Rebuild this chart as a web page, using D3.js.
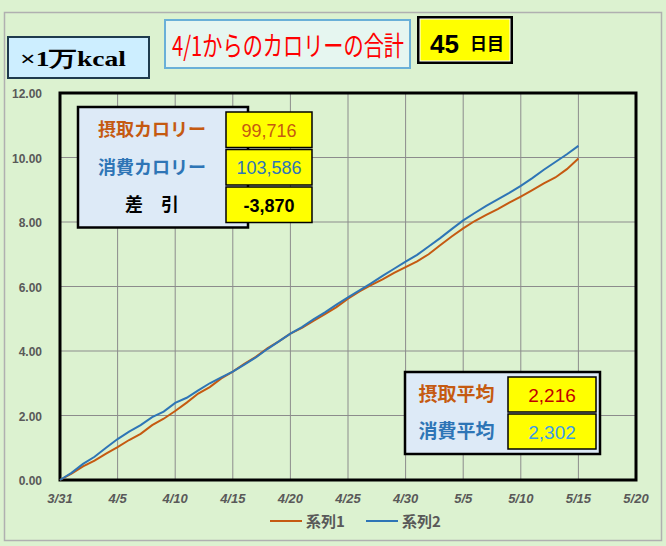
<!DOCTYPE html>
<html><head><meta charset="utf-8">
<script src="https://cdn.jsdelivr.net/npm/d3@7"></script>
<style>body{margin:0;background:#dcf2d0}</style></head>
<body><div id="chart"></div>
<script>
// --- data (×1万kcal, cumulative from 3/31) ---
const days = d3.range(0, 46); // day offset from 3/31
const intake = [0,0.2,0.42,0.6,0.82,1.02,1.24,1.43,1.7,1.9,2.14,2.4,2.68,2.88,3.15,3.36,3.6,3.82,4.08,4.3,4.54,4.72,4.93,5.14,5.36,5.62,5.85,6.04,6.22,6.42,6.6,6.78,7.0,7.28,7.55,7.8,8.03,8.22,8.4,8.6,8.79,8.99,9.2,9.38,9.64,9.97];
const burn = [0,0.22,0.5,0.72,1.0,1.27,1.5,1.7,1.95,2.12,2.39,2.55,2.78,3.0,3.18,3.36,3.58,3.8,4.06,4.3,4.54,4.74,4.98,5.2,5.44,5.66,5.88,6.1,6.33,6.55,6.77,6.98,7.24,7.5,7.78,8.05,8.28,8.5,8.7,8.9,9.12,9.36,9.62,9.86,10.1,10.36];
const xTickLabels = ["3/31","4/5","4/10","4/15","4/20","4/25","4/30","5/5","5/10","5/15","5/20"];
const yTicks = [0,2,4,6,8,10,12];
const totals = [["摂取カロリー","99,716","#c55a11","#c55a11"],["消費カロリー","103,586","#2e75b6","#2e75b6"],["差　引","-3,870","#000","#000"]];
const avgs = [["摂取平均","2,216","#c55a11","#c00000"],["消費平均","2,302","#2e75b6","#3d9be9"]];
const seriesNames = ["系列1","系列2"];
const colors = ["#c55a11","#2e75b6"];

const W = 666, H = 546;
const svg = d3.select("#chart").append("svg").attr("width", W).attr("height", H)
  .style("font-family", "'Noto Sans CJK JP', sans-serif");
svg.append("rect").attr("width", W).attr("height", H).attr("fill", "#dcf2d0");
svg.append("rect").attr("x", 4.5).attr("y", 12.5).attr("width", 657).attr("height", 528)
  .attr("fill", "none").attr("stroke", "#b0b0b0").attr("stroke-width", 1.5);

const x = d3.scaleLinear().domain([0, 50]).range([60, 636]);
const y = d3.scaleLinear().domain([0, 12]).range([480, 93]);

// grid
const g = svg.append("g");
g.selectAll(".vg").data(d3.range(5, 50, 5)).join("line")
  .attr("x1", d => x(d)).attr("x2", d => x(d)).attr("y1", y(12)).attr("y2", y(0))
  .attr("stroke", "#8c8c8c").attr("stroke-width", 1);
g.selectAll(".hg").data(yTicks.slice(1, -1)).join("line")
  .attr("x1", x(0)).attr("x2", x(50)).attr("y1", d => y(d)).attr("y2", d => y(d))
  .attr("stroke", "#8c8c8c").attr("stroke-width", 1);
g.append("rect").attr("x", x(0)).attr("y", y(12)).attr("width", x(50) - x(0)).attr("height", y(0) - y(12))
  .attr("fill", "none").attr("stroke", "#000").attr("stroke-width", 3);

// axes labels
svg.selectAll(".yl").data(yTicks).join("text")
  .attr("x", 42).attr("y", d => y(d) + 5).attr("text-anchor", "end")
  .attr("font-size", 12).attr("font-weight", "bold").attr("fill", "#595959")
  .attr("font-family", "'Liberation Sans Narrow', 'Liberation Sans', sans-serif")
  .text(d => d.toFixed(2));
svg.selectAll(".xl").data(xTickLabels).join("text")
  .attr("x", (d, i) => x(i * 5)).attr("y", 503).attr("text-anchor", "middle")
  .attr("font-size", 13).attr("font-weight", "bold").attr("font-style", "italic").attr("fill", "#595959")
  .attr("font-family", "'Liberation Sans Narrow', 'Liberation Sans', sans-serif")
  .text(d => d);

// lines
const line = d3.line().x((d, i) => x(days[i])).y(d => y(d));
[intake, burn].forEach((s, k) => {
  svg.append("path").datum(s).attr("d", line).attr("fill", "none")
    .attr("stroke", colors[k]).attr("stroke-width", 2);
});

// legend
seriesNames.forEach((n, k) => {
  const lx = 270 + k * 96;
  svg.append("line").attr("x1", lx).attr("x2", lx + 32).attr("y1", 521).attr("y2", 521)
    .attr("stroke", colors[k]).attr("stroke-width", 2);
  svg.append("text").attr("x", lx + 36).attr("y", 527).attr("font-size", 15).attr("font-weight", "bold")
    .attr("fill", "#595959").text(n);
});

// unit box
svg.append("rect").attr("x", 8).attr("y", 37).attr("width", 141).attr("height", 41)
  .attr("fill", "#cdeeff").attr("stroke", "#1f3b4d").attr("stroke-width", 2);
svg.append("text").attr("x", 20).attr("y", 66).attr("font-size", 21).attr("font-weight", "bold")
  .attr("font-family", "'Liberation Serif', serif")
  .attr("textLength", 106).attr("lengthAdjust", "spacingAndGlyphs").text("×1万kcal");

// title
svg.append("rect").attr("x", 165).attr("y", 20).attr("width", 245).attr("height", 48)
  .attr("fill", "#e6f6f0").attr("stroke", "#6ab0d8").attr("stroke-width", 2);
svg.append("text").attr("x", 172).attr("y", 56).attr("font-size", 27)
  .attr("fill", "#ff0000").attr("textLength", 232).attr("lengthAdjust", "spacingAndGlyphs")
  .text("4/1からのカロリーの合計");

// day box
svg.append("rect").attr("x", 417).attr("y", 16).attr("width", 96).attr("height", 48)
  .attr("fill", "#000");
svg.append("rect").attr("x", 420).attr("y", 19).attr("width", 90).attr("height", 42)
  .attr("fill", "#ffff00").attr("stroke", "#fff").attr("stroke-width", 1);
svg.append("text").attr("x", 430).attr("y", 53).attr("font-size", 26).attr("font-weight", "bold")
  .attr("font-family", "'Liberation Sans Narrow', sans-serif").text("45");
svg.append("text").attr("x", 470).attr("y", 50).attr("font-size", 17).attr("font-weight", "bold").text("日目");

// info boxes
function infoBox(x0, y0, w, rows, rowH, labelW, valW, fs) {
  svg.append("rect").attr("x", x0).attr("y", y0).attr("width", w).attr("height", rows.length * rowH + 8)
    .attr("fill", "#ddeaf7").attr("stroke", "#000").attr("stroke-width", 2.5);
  rows.forEach((r, i) => {
    const ry = y0 + 4 + i * rowH;
    svg.append("text").attr("x", x0 + labelW / 2 + 4).attr("y", ry + rowH / 2 + fs * 0.36)
      .attr("text-anchor", "middle").attr("font-size", fs).attr("font-weight", "bold")
      .attr("fill", r[2]).text(r[0]);
    svg.append("rect").attr("x", x0 + labelW + 8).attr("y", ry + 1).attr("width", valW).attr("height", rowH - 2)
      .attr("fill", "#ffff00").attr("stroke", "#000").attr("stroke-width", 1.5);
    svg.append("text").attr("x", x0 + labelW + 8 + valW / 2).attr("y", ry + rowH / 2 + fs * 0.38)
      .attr("text-anchor", "middle").attr("font-size", fs)
      .attr("font-family", "'Liberation Sans Narrow', sans-serif")
      .attr("fill", r[3]).text(r[1]);
  });
}
infoBox(78, 107, 170, totals, 37.5, 140, 86, 18);
svg.selectAll("text").filter(function () { return d3.select(this).text() === "-3,870"; }).attr("font-weight", "bold");
infoBox(405, 372, 195, avgs, 37, 95, 88, 19);
</script></body></html>
